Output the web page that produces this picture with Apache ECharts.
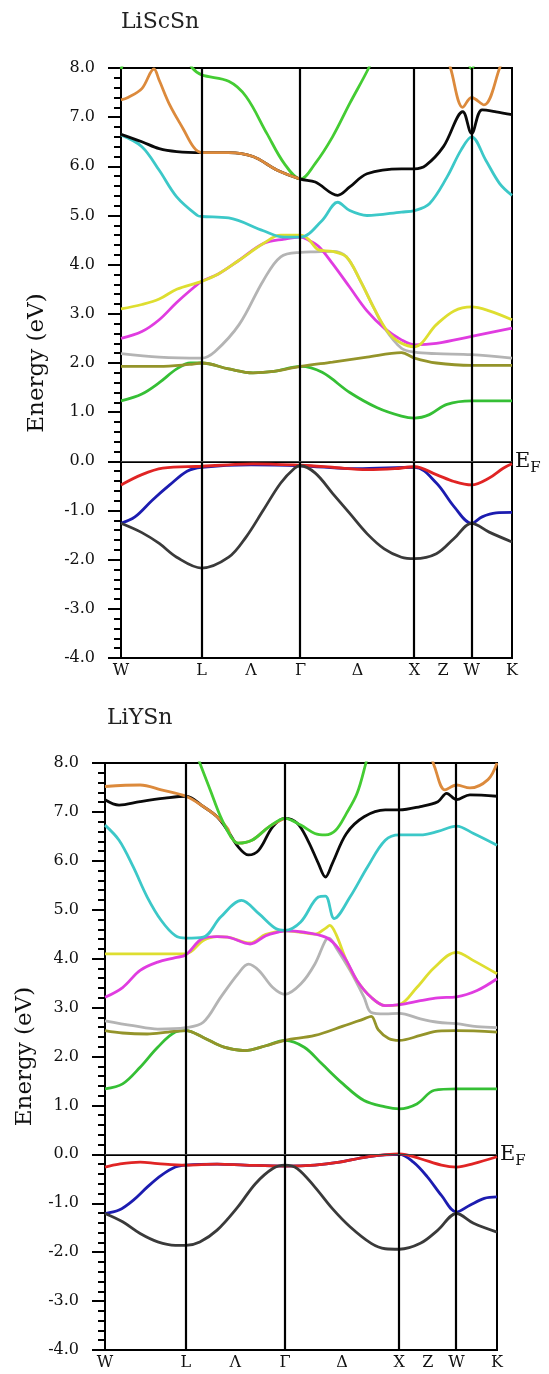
<!DOCTYPE html>
<html>
<head>
<meta charset="utf-8">
<script src="https://cdn.jsdelivr.net/npm/echarts@6/dist/echarts.min.js"></script>
<style>
html,body{margin:0;padding:0;background:#fff;}
#chart{width:549px;height:1374px;}
</style>
</head>
<body>
<div id="chart"></div>
<script>
// high-symmetry path (k distance, 2pi/a units)
const kTicks = [0, 0.707, 1.14, 1.573, 2.073, 2.573, 2.823, 3.073, 3.427];
const kNames = ['W', 'L', 'Λ', 'Γ', 'Δ', 'X', 'Z', 'W', 'K'];
const kLines = [0.707, 1.573, 2.573, 3.073];
const titles = ['LiScSn', 'LiYSn'];

// ---------- LiScSn ----------
const scDark = [[0,-1.26],[0.183,-1.45],[0.335,-1.67],[0.488,-1.95],[0.707,-2.17],[0.944,-1.95],[1.096,-1.54],[1.248,-0.99],[1.4,-0.44],[1.521,-0.14],[1.573,-0.09],[1.703,-0.24],[1.854,-0.65],[2.005,-1.06],[2.156,-1.47],[2.307,-1.78],[2.458,-1.95],[2.573,-1.98],[2.764,-1.88],[2.919,-1.57],[3.073,-1.26],[3.227,-1.44],[3.427,-1.64]];
const scBlue = [[0,-1.26],[0.122,-1.13],[0.274,-0.79],[0.427,-0.48],[0.579,-0.2],[0.707,-0.12],[1.14,-0.07],[1.573,-0.09],[2.07,-0.15],[2.573,-0.12],[2.764,-0.44],[2.919,-0.92],[3.073,-1.26],[3.165,-1.13],[3.288,-1.05],[3.427,-1.04]];
const scRed = [[0,-0.48],[0.183,-0.27],[0.366,-0.14],[0.707,-0.1],[0.944,-0.07],[1.157,-0.05],[1.573,-0.08],[1.85,-0.12],[2.156,-0.17],[2.4,-0.15],[2.573,-0.11],[2.764,-0.27],[2.919,-0.41],[3.073,-0.48],[3.227,-0.34],[3.35,-0.14],[3.427,-0.05]];
const scGreen = [[0,1.23],[0.183,1.37],[0.335,1.6],[0.488,1.88],[0.609,2.0],[0.707,2.0],[0.944,1.88],[1.157,1.8],[1.339,1.83],[1.573,1.93],[1.763,1.81],[2.005,1.4],[2.246,1.09],[2.458,0.92],[2.573,0.88],[2.703,0.95],[2.857,1.16],[3.073,1.23],[3.427,1.23]];
const scOlive = [[0,1.93],[0.335,1.93],[0.6,1.97],[0.707,2.0],[0.944,1.88],[1.157,1.8],[1.339,1.83],[1.573,1.93],[1.854,2.02],[2.156,2.12],[2.458,2.21],[2.573,2.1],[2.764,2.0],[3.073,1.95],[3.427,1.95]];
const scGray = [[0,2.19],[0.335,2.12],[0.707,2.1],[0.822,2.23],[1.035,2.78],[1.248,3.68],[1.4,4.16],[1.573,4.25],[1.703,4.26],[1.854,4.27],[1.975,4.16],[2.096,3.68],[2.216,3.12],[2.307,2.72],[2.458,2.3],[2.573,2.22],[2.764,2.19],[3.073,2.17],[3.427,2.1]];
const scMagenta = [[0,2.5],[0.183,2.64],[0.335,2.88],[0.488,3.23],[0.64,3.54],[0.707,3.66],[0.853,3.81],[1.035,4.09],[1.248,4.43],[1.43,4.52],[1.573,4.56],[1.642,4.5],[1.733,4.37],[1.854,4.02],[2.005,3.54],[2.156,3.06],[2.307,2.71],[2.458,2.47],[2.573,2.37],[2.764,2.4],[3.073,2.54],[3.427,2.71]];
const scYellow = [[0,3.1],[0.183,3.19],[0.335,3.3],[0.488,3.5],[0.707,3.66],[0.853,3.81],[1.035,4.09],[1.248,4.43],[1.4,4.6],[1.573,4.6],[1.642,4.52],[1.733,4.3],[1.854,4.27],[1.975,4.16],[2.096,3.68],[2.216,3.12],[2.337,2.64],[2.458,2.4],[2.573,2.33],[2.764,2.78],[2.919,3.06],[3.073,3.14],[3.227,3.06],[3.427,2.88]];
const scCyan = [[0,6.64],[0.183,6.4],[0.335,5.92],[0.488,5.38],[0.67,5.0],[0.707,4.98],[0.944,4.95],[1.248,4.69],[1.43,4.56],[1.573,4.56],[1.763,4.9],[1.899,5.27],[2.005,5.1],[2.156,5.0],[2.458,5.07],[2.573,5.1],[2.703,5.24],[2.857,5.78],[2.98,6.33],[3.073,6.6],[3.196,6.13],[3.319,5.65],[3.427,5.41]];
const scBlack = [[0,6.65],[0.183,6.5],[0.335,6.36],[0.488,6.3],[0.707,6.28],[0.944,6.28],[1.157,6.2],[1.37,5.92],[1.573,5.74],[1.703,5.68],[1.899,5.41],[2.005,5.58],[2.156,5.85],[2.458,5.95],[2.573,5.95],[2.672,6.02],[2.826,6.4],[2.996,7.11],[3.073,6.67],[3.165,7.15],[3.288,7.11],[3.427,7.05]];
const scOrange = [[0,7.35],[0.061,7.4],[0.183,7.58],[0.289,7.98],[0.335,7.75],[0.427,7.25],[0.548,6.75],[0.64,6.38],[0.707,6.28],[0.944,6.28],[1.157,6.2],[1.37,5.92],[1.573,5.74]];
const scOrangeW = [[2.86,8.2],[2.888,8.0],[2.996,7.2],[3.073,7.4],[3.181,7.25],[3.319,8.0],[3.34,8.2]];
const scGreen2 = [[0.6,8.15],[0.625,8.0],[0.707,7.86],[0.944,7.73],[1.096,7.42],[1.278,6.67],[1.43,6.06],[1.573,5.74],[1.703,6.06],[1.854,6.6],[2.005,7.28],[2.171,8.0],[2.19,8.15]];
const scGreen2W0 = [[0,7.98],[0.05,8.3]];
const scGreen2W = [[3.02,8.3],[3.073,7.98],[3.12,8.3]];

// ---------- LiYSn ----------
const yDark = [[0,-1.21],[0.154,-1.38],[0.307,-1.62],[0.461,-1.79],[0.615,-1.86],[0.707,-1.86],[0.829,-1.79],[0.98,-1.55],[1.163,-1.07],[1.315,-0.6],[1.467,-0.29],[1.573,-0.22],[1.681,-0.29],[1.835,-0.67],[1.988,-1.11],[2.142,-1.48],[2.327,-1.82],[2.45,-1.93],[2.573,-1.94],[2.757,-1.82],[2.91,-1.55],[3.073,-1.21],[3.222,-1.41],[3.427,-1.59]];
const yBlue = [[0,-1.21],[0.123,-1.14],[0.246,-0.94],[0.369,-0.67],[0.492,-0.43],[0.615,-0.26],[0.707,-0.22],[0.98,-0.2],[1.223,-0.22],[1.573,-0.24],[1.835,-0.22],[2.05,-0.16],[2.296,-0.05],[2.573,0.0],[2.696,-0.16],[2.818,-0.46],[2.941,-0.84],[3.073,-1.18],[3.19,-1.04],[3.316,-0.9],[3.427,-0.87]];
const yRed = [[0,-0.26],[0.123,-0.2],[0.307,-0.16],[0.461,-0.19],[0.707,-0.22],[0.98,-0.2],[1.223,-0.22],[1.573,-0.24],[1.835,-0.22],[2.05,-0.16],[2.296,-0.05],[2.573,0.01],[2.757,-0.09],[2.941,-0.22],[3.073,-0.26],[3.222,-0.19],[3.427,-0.05]];
const yGreen = [[0,1.34],[0.154,1.44],[0.307,1.78],[0.461,2.19],[0.615,2.5],[0.707,2.53],[0.859,2.39],[1.041,2.19],[1.223,2.12],[1.406,2.22],[1.573,2.33],[1.742,2.19],[1.896,1.85],[2.081,1.44],[2.265,1.1],[2.45,0.97],[2.573,0.93],[2.726,1.03],[2.88,1.31],[3.073,1.34],[3.427,1.34]];
const yOlive = [[0,2.53],[0.154,2.48],[0.369,2.46],[0.553,2.5],[0.707,2.53],[0.859,2.39],[1.041,2.19],[1.223,2.12],[1.406,2.22],[1.573,2.33],[1.835,2.43],[2.081,2.62],[2.265,2.77],[2.327,2.82],[2.388,2.55],[2.48,2.37],[2.573,2.33],[2.757,2.43],[2.91,2.52],[3.073,2.53],[3.427,2.5]];
const yGray = [[0,2.73],[0.246,2.63],[0.461,2.56],[0.707,2.59],[0.859,2.7],[1.011,3.21],[1.163,3.69],[1.254,3.89],[1.345,3.76],[1.467,3.41],[1.573,3.27],[1.711,3.48],[1.835,3.89],[1.927,4.37],[1.958,4.42],[2.019,4.23],[2.142,3.76],[2.265,3.21],[2.327,2.9],[2.45,2.87],[2.573,2.88],[2.757,2.77],[2.91,2.7],[3.073,2.67],[3.253,2.61],[3.427,2.59]];
const yMagenta = [[0,3.21],[0.154,3.41],[0.307,3.76],[0.461,3.93],[0.615,4.02],[0.707,4.08],[0.859,4.42],[0.98,4.45],[1.072,4.44],[1.269,4.3],[1.406,4.47],[1.527,4.55],[1.573,4.57],[1.742,4.54],[1.927,4.44],[2.019,4.27],[2.111,3.96],[2.204,3.55],[2.327,3.21],[2.45,3.04],[2.573,3.06],[2.757,3.14],[2.91,3.2],[3.073,3.22],[3.253,3.35],[3.427,3.59]];
const yYellow = [[0,4.1],[0.353,4.1],[0.707,4.1],[0.859,4.37],[0.98,4.45],[1.072,4.44],[1.269,4.32],[1.406,4.5],[1.573,4.57],[1.711,4.54],[1.835,4.5],[1.927,4.62],[1.965,4.68],[2.019,4.5],[2.111,3.96],[2.204,3.55],[2.327,3.21],[2.45,3.04],[2.573,3.06],[2.726,3.41],[2.88,3.82],[3.073,4.13],[3.222,3.96],[3.427,3.69]];
const yCyan = [[0,6.73],[0.123,6.42],[0.246,5.88],[0.369,5.26],[0.492,4.78],[0.615,4.47],[0.707,4.42],[0.859,4.44],[1.011,4.85],[1.193,5.19],[1.345,4.92],[1.497,4.61],[1.573,4.58],[1.711,4.75],[1.865,5.26],[1.927,5.28],[2.004,4.82],[2.142,5.26],[2.296,5.88],[2.45,6.42],[2.573,6.53],[2.757,6.53],[2.91,6.6],[3.073,6.71],[3.222,6.56],[3.427,6.32]];
const yBlack = [[0,7.25],[0.123,7.14],[0.307,7.21],[0.523,7.28],[0.707,7.32],[0.859,7.11],[0.98,6.9],[1.072,6.62],[1.163,6.29],[1.254,6.12],[1.345,6.22],[1.467,6.7],[1.573,6.87],[1.681,6.77],[1.773,6.42],[1.865,5.95],[1.927,5.67],[1.988,5.95],[2.111,6.56],[2.265,6.9],[2.45,7.04],[2.573,7.04],[2.757,7.11],[2.91,7.21],[2.987,7.38],[3.073,7.25],[3.19,7.35],[3.427,7.32]];
const yOrange = [[0,7.52],[0.307,7.55],[0.492,7.45],[0.707,7.32],[0.859,7.11],[0.98,6.9],[1.072,6.66],[1.102,6.49],[1.163,6.36],[1.284,6.42],[1.436,6.7],[1.573,6.87]];
const yOrangeW = [[2.85,8.15],[2.88,7.93],[2.972,7.45],[3.073,7.55],[3.19,7.49],[3.348,7.66],[3.427,8.0]];
const yGreen2 = [[0.8,8.2],[0.829,8.0],[0.92,7.45],[1.011,6.9],[1.102,6.49],[1.163,6.36],[1.284,6.42],[1.436,6.7],[1.573,6.87],[1.711,6.73],[1.835,6.56],[1.927,6.53],[2.019,6.63],[2.111,6.97],[2.204,7.38],[2.281,8.0],[2.3,8.2]];

// ---------- styles ----------
const C = {
  dark:'#3a3a3a', blue:'#1c1cb0', red:'#e02424', green:'#35bf35', olive:'#94942a',
  gray:'#b4b4b4', magenta:'#e03ce0', yellow:'#dede30', cyan:'#3cc8c8',
  black:'#0a0a0a', orange:'#dc8a3c', green2:'#44cc33'
};
const FONT = 'DejaVu Serif';

const bandsTop = [
  [scBlue,C.blue],[scRed,C.red],[scDark,C.dark],[scGreen,C.green],[scOlive,C.olive],
  [scGray,C.gray],[scMagenta,C.magenta],[scYellow,C.yellow],[scCyan,C.cyan],
  [scGreen2,C.green2],[scGreen2W0,C.green2],[scGreen2W,C.green2],
  [scBlack,C.black],[scOrange,C.orange],[scOrangeW,C.orange]
];
const bandsBot = [
  [yBlue,C.blue],[yRed,C.red],[yDark,C.dark],[yGreen,C.green],[yOlive,C.olive],
  [yGray,C.gray],[yYellow,C.yellow],[yMagenta,C.magenta],[yCyan,C.cyan],
  [yBlack,C.black],[yOrange,C.orange],[yOrangeW,C.orange],[yGreen2,C.green2]
];

const chart = echarts.init(document.getElementById('chart'), null, {renderer:'canvas'});

function xAxisFor(i){
  return {
    type:'value', gridIndex:i, min:0, max:3.427,
    axisLine:{show:true, lineStyle:{color:'#000', width:2}},
    axisTick:{show:false}, splitLine:{show:false},
    axisLabel:{
      customValues:kTicks, margin:5, color:'#111',
      fontFamily:FONT, fontSize:16,
      formatter:function(v){
        const j = kTicks.findIndex(t => Math.abs(t - v) < 1e-6);
        return j >= 0 ? kNames[j] : '';
      }
    }
  };
}
function yAxisFor(i, gap){
  return {
    type:'value', gridIndex:i, min:-4, max:8, interval:1,
    name:'Energy (eV)', nameLocation:'middle', nameGap:gap,
    nameTextStyle:{fontFamily:FONT, fontSize:23, color:'#111'},
    axisLine:{show:true, lineStyle:{color:'#000', width:2}},
    axisTick:{show:true, inside:false, length:13, lineStyle:{color:'#000', width:2}},
    minorTick:{show:true, splitNumber:5, length:7, lineStyle:{color:'#000', width:2}},
    splitLine:{show:false},
    axisLabel:{margin:26, color:'#111', fontFamily:FONT, fontSize:16,
      formatter:function(v){ return v.toFixed(1); }}
  };
}

const series = [];
function addBands(list, gi){
  list.forEach(function(b){
    series.push({
      type:'line', xAxisIndex:gi, yAxisIndex:gi, data:b[0], showSymbol:false,
      smooth:0.35, clip:true, silent:true,
      lineStyle:{color:b[1], width:2.8}, z:3
    });
  });
}
addBands(bandsTop, 0);
addBands(bandsBot, 1);

function refSeries(gi){
  return {
    type:'line', xAxisIndex:gi, yAxisIndex:gi, data:[], silent:true, z:2,
    markLine:{
      silent:true, symbol:['none','none'], animation:false,
      data:[
        ...kLines.map(k => ({xAxis:k, lineStyle:{color:'#000', width:2.2, type:'solid'}, label:{show:false}})),
        {yAxis:0, lineStyle:{color:'#444', width:1, type:'solid'},
         label:{show:true, position:'end', distance:3,
           formatter:'{e|E}{f|F}',
           rich:{e:{fontFamily:FONT, fontSize:21, color:'#111'},
                 f:{fontFamily:FONT, fontSize:15, color:'#111', verticalAlign:'bottom', padding:[14,0,0,0]}}}}
      ]
    }
  };
}
series.push(refSeries(0));
series.push(refSeries(1));

chart.setOption({
  animation:false,
  backgroundColor:'#fff',
  title:[
    {text:titles[0], left:116, top:6, textStyle:{fontFamily:FONT, fontSize:22, fontWeight:'normal', color:'#222'}},
    {text:titles[1], left:102, top:702, textStyle:{fontFamily:FONT, fontSize:22, fontWeight:'normal', color:'#222'}}
  ],
  grid:[
    {left:121, top:68, width:391, height:590, show:true, borderColor:'#000', borderWidth:2, backgroundColor:'transparent'},
    {left:105, top:763, width:392, height:587, show:true, borderColor:'#000', borderWidth:2, backgroundColor:'transparent'}
  ],
  xAxis:[xAxisFor(0), xAxisFor(1)],
  yAxis:[yAxisFor(0, 72), yAxisFor(1, 68)],
  series:series
});
</script>
</body>
</html>
